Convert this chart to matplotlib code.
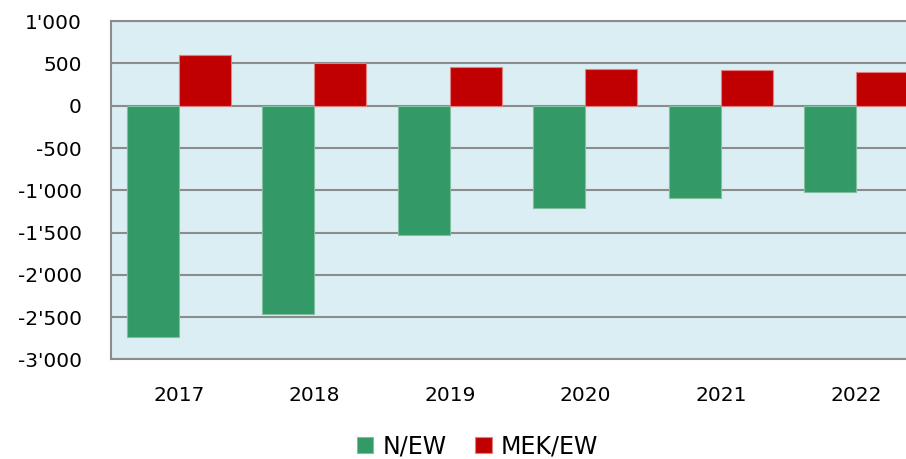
import numpy as np
import matplotlib.pyplot as plt
from matplotlib.ticker import FuncFormatter

years = ['2017', '2018', '2019', '2020', '2021', '2022']
n_ew = [-2740, -2460, -1525, -1210, -1090, -1020]
mek_ew = [600, 505, 457, 437, 418, 394]

green = '#339966'
red = '#C00000'
grid_col = '#8c8c8c'

plt.rcParams['font.family'] = ['DejaVu Sans']

fig = plt.figure(figsize=(9.06, 4.59), dpi=100)
ax = fig.add_axes([0.1225, 0.2168, 0.8975, 0.7372])
ax.set_facecolor('#DAEEF3')

x = np.arange(len(years))
w = 0.384
ax.bar(x - w / 2, n_ew, w, color=green, edgecolor='#7fbfa0', linewidth=0.8, label='N/EW', zorder=3)
ax.bar(x + w / 2, mek_ew, w, color=red, edgecolor='#e08080', linewidth=0.8, label='MEK/EW', zorder=3)

ax.set_xlim(-0.5, len(years) - 0.5)
ax.set_ylim(-3000, 1000)
ax.set_yticks(np.arange(-3000, 1001, 500))
ax.yaxis.set_major_formatter(FuncFormatter(lambda v, p: f"{int(v):,}".replace(',', "'")))
ax.set_xticks(x)
ax.set_xticklabels(years)
ax.grid(axis='y', color=grid_col, linewidth=1.5, zorder=1)
ax.set_axisbelow(True)
for s in ax.spines.values():
    s.set_color(grid_col)
    s.set_linewidth(1.5)
ax.tick_params(axis='both', length=0, labelsize=14.5, colors='black')
ax.tick_params(axis='y', pad=21)
ax.tick_params(axis='x', pad=19)

fig.legend(loc='lower center', bbox_to_anchor=(0.527, -0.045), ncol=2, frameon=False,
           fontsize=17, handlelength=0.7, handleheight=0.7, handletextpad=0.4, columnspacing=1.2)

fig.savefig('out.png', dpi=100)
